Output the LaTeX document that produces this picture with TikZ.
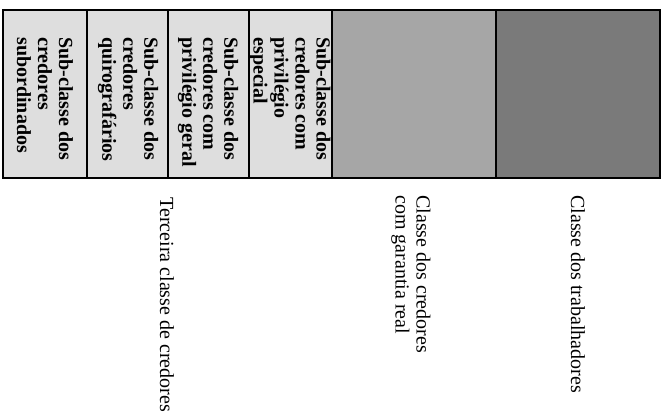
\documentclass[tikz,border=0pt]{standalone}
\usepackage{fontspec}
\setmainfont{Liberation Serif}
\usetikzlibrary{positioning}
\begin{document}
\begin{tikzpicture}[x=0.5pt,y=-0.5pt,
  font=\fontsize{10}{10.5}\selectfont,
  lt/.style={fill=black!13},
  md/.style={fill=black!35},
  dk/.style={fill=black!52},
  t/.style={rotate=-90,anchor=west,align=left,inner sep=0pt,font=\fontsize{10}{10.5}\selectfont\bfseries},
  lab/.style={rotate=-90,anchor=west,align=left,inner sep=0pt}]
\useasboundingbox (0,0) rectangle (663,414);
% the bar
\fill[lt] (3,10) rectangle (332,178);
\fill[md] (332,10) rectangle (496,178);
\fill[dk] (496,10) rectangle (660,178);
\draw[line width=0.6pt] (3,10) rectangle (660,178);
\foreach \x in {87,168,249,332,496} \draw[line width=0.6pt] (\x,10) -- (\x,178);
% sub-classes
\node[t] (sub1) at (45,37) {Sub-classe dos\\credores\\subordinados};
\node[t] (sub2) at (128,37) {Sub-classe dos\\credores\\quirografários};
\node[t] (sub3) at (208,37) {Sub-classe dos\\credores com\\privilégio geral};
\node[t] (sub4) at (290,37) {Sub-classe dos\\credores com\\privilégio\\especial};
% classes
\node[lab] (terc) at (167,197) {Terceira classe de credores};
\node[lab] (gar) at (411,195) {Classe dos credores\\com garantia real};
\node[lab] (trab) at (578,195) {Classe dos trabalhadores};
\end{tikzpicture}
\end{document}
